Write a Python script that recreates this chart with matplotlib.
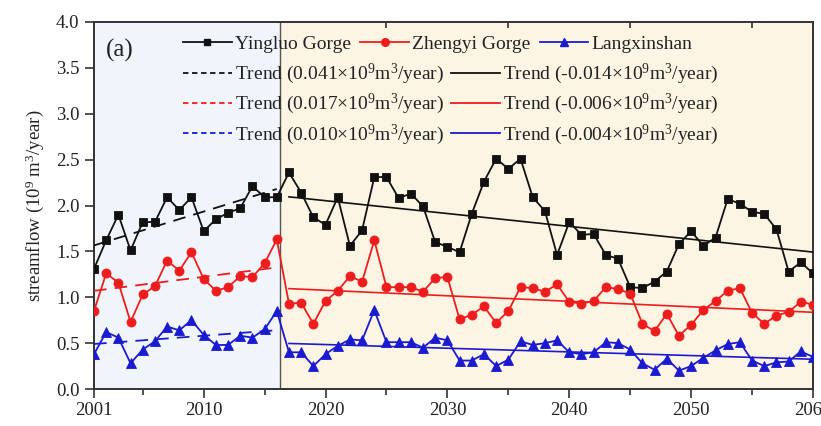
import numpy as np
import matplotlib
matplotlib.use("Agg")
import matplotlib.pyplot as plt
from matplotlib.lines import Line2D

plt.rcParams['font.family'] = ['Liberation Serif', 'DejaVu Serif']
plt.rcParams['mathtext.fontset'] = 'custom'
plt.rcParams['mathtext.rm'] = 'Liberation Serif'
plt.rcParams['mathtext.it'] = 'Liberation Serif:italic'

# ---- data -------------------------------------------------------------
years = list(range(2001, 2061))

yingluo = [1.31, 1.62, 1.90, 1.51, 1.82, 1.82, 2.09, 1.95, 2.09, 1.72, 1.85, 1.92, 1.97, 2.21, 2.09, 2.09,
           2.36, 2.14, 1.87, 1.79, 2.09, 1.56, 1.73, 2.31, 2.31, 2.08, 2.13, 1.99, 1.60, 1.55, 1.49,
           1.91, 2.26, 2.51, 2.40, 2.51, 2.09, 1.94, 1.46, 1.82, 1.68, 1.69, 1.46, 1.42, 1.11, 1.10, 1.17,
           1.28, 1.58, 1.72, 1.56, 1.65, 2.07, 2.02, 1.93, 1.91, 1.74, 1.28, 1.38, 1.26]

zhengyi = [0.85, 1.26, 1.16, 0.73, 1.03, 1.12, 1.40, 1.29, 1.49, 1.20, 1.07, 1.11, 1.23, 1.22, 1.37, 1.63,
           0.93, 0.94, 0.71, 0.96, 1.07, 1.23, 1.17, 1.62, 1.11, 1.11, 1.11, 1.06, 1.21, 1.22, 0.76,
           0.81, 0.90, 0.72, 0.85, 1.11, 1.10, 1.06, 1.14, 0.95, 0.93, 0.96, 1.11, 1.09, 1.04, 0.71, 0.63,
           0.82, 0.58, 0.70, 0.86, 0.96, 1.07, 1.10, 0.83, 0.71, 0.80, 0.84, 0.95, 0.92]

langxinshan = [0.38, 0.62, 0.56, 0.28, 0.43, 0.52, 0.68, 0.64, 0.75, 0.59, 0.48, 0.48, 0.58, 0.56, 0.65, 0.85,
               0.40, 0.40, 0.25, 0.38, 0.47, 0.54, 0.53, 0.86, 0.51, 0.51, 0.51, 0.45, 0.56, 0.53, 0.31,
               0.31, 0.38, 0.25, 0.32, 0.52, 0.48, 0.50, 0.53, 0.40, 0.38, 0.40, 0.51, 0.50, 0.43, 0.28, 0.21,
               0.33, 0.20, 0.25, 0.34, 0.42, 0.49, 0.51, 0.31, 0.25, 0.29, 0.30, 0.41, 0.35]

station_names = ['Yingluo Gorge', 'Zhengyi Gorge', 'Langxinshan']
slopes_early = [0.041, 0.017, 0.010]    # 2001-2016
slopes_late = [-0.014, -0.006, -0.004]  # 2017-2060
split_year = 2016
x_ticks = [2001, 2010, 2020, 2030, 2040, 2050, 2060]
x_minor = [2005, 2015, 2025, 2035, 2045, 2055]
y_ticks = [0.0, 0.5, 1.0, 1.5, 2.0, 2.5, 3.0, 3.5, 4.0]

colors = ['#111111', '#EE1D1D', '#1A1AD0']
markers = ['s', 'o', '^']
msizes = [5.5, 6.5, 6.5]

# ---- figure -----------------------------------------------------------
W, H = 821, 426
fig = plt.figure(figsize=(W / 100, H / 100), dpi=100)
ax = fig.add_axes([94 / W, 1 - 389 / H, (813 - 94) / W, (389 - 22) / H])

ax.set_xlim(2001, 2060)
ax.set_ylim(0, 4.0)

divider = split_year + 0.25
ax.axvspan(2001, divider, color='#F0F5FB', zorder=0, lw=0)
ax.axvspan(divider, 2060, color='#FDF5E3', zorder=0, lw=0)
ax.axvline(divider, color='#555555', lw=1.0, zorder=1)

yrs = np.array(years, dtype=float)
series = [np.array(yingluo), np.array(zhengyi), np.array(langxinshan)]
early = yrs <= split_year
late = yrs > split_year

for vals, c, m, ms in zip(series, colors, markers, msizes):
    ax.plot(yrs, vals, color=c, marker=m, markersize=ms, lw=1.3, zorder=4,
            markeredgewidth=0.6, markeredgecolor=c)

# trend lines through each period's mean with the stated slope
for vals, c, s_e, s_l in zip(series, colors, slopes_early, slopes_late):
    xe, ye = yrs[early], vals[early]
    be = ye.mean() - s_e * xe.mean()
    ax.plot([xe[0], xe[-1]], [be + s_e * xe[0], be + s_e * xe[-1]], color=c,
            lw=1.3, ls=(0, (7, 4.5)), zorder=3)
    xl, yl = yrs[late], vals[late]
    bl = yl.mean() - s_l * xl.mean()
    ax.plot([xl[0], xl[-1]], [bl + s_l * xl[0], bl + s_l * xl[-1]], color=c,
            lw=1.2, zorder=3)

# axes styling
ax.set_xticks(x_ticks)
ax.set_xticklabels([str(v) for v in x_ticks])
ax.set_xticks(x_minor, minor=True)
ax.set_yticks(y_ticks)
ax.set_yticklabels([f'{v:.1f}' for v in y_ticks])
ax.tick_params(axis='both', which='major', direction='out', length=6.5, width=1.2,
               labelsize=13.5, color='#333333', labelcolor='#222222', pad=3)
ax.tick_params(axis='y', which='major', pad=4)
ax.tick_params(axis='x', which='minor', direction='out', length=4, width=1.2, color='#333333')
for sp in ax.spines.values():
    sp.set_color('#333333')
    sp.set_linewidth(1.4)

top = ax.secondary_xaxis('top')
top.set_xticks(x_minor[2:])
top.set_xticklabels([])
top.tick_params(direction='in', length=4, width=1.2, color='#333333')
top.spines['top'].set_visible(False)

ax.set_ylabel('streamflow (10$^{9}$ m$^{3}$/year)', fontsize=13.5, color='#222222', labelpad=7)

ax.text(106 / W, 1 - 50 / H, '(a)', transform=fig.transFigure, fontsize=18,
        va='center', ha='left', color='#222222')

# legends
series_handles = [Line2D([], [], color=c, marker=m, markersize=ms - 1, lw=1.3)
                  for c, m, ms in zip(colors, markers, msizes)]
leg1 = fig.legend(series_handles, station_names, loc='upper left',
                  bbox_to_anchor=(183 / W, 1 - 35 / H), ncol=3, frameon=False,
                  fontsize=14, handlelength=2.5, handletextpad=0.15, columnspacing=0.5,
                  borderpad=0, borderaxespad=0)

def trend_label(s):
    return f'Trend ({s:.3f}\u00d710$^{{9}}$m$^{{3}}$/year)'

trend_handles = ([Line2D([], [], color=c, lw=1.3, ls=(0, (3, 2))) for c in colors]
                 + [Line2D([], [], color=c, lw=1.3) for c in colors])
trend_labels = [trend_label(s) for s in slopes_early] + [trend_label(s) for s in slopes_late]
leg2 = fig.legend(trend_handles, trend_labels, loc='upper left',
                  bbox_to_anchor=(183 / W, 1 - 62 / H), ncol=2, frameon=False,
                  fontsize=14, handlelength=2.5, handletextpad=0.15, columnspacing=0.4,
                  labelspacing=0.3, borderpad=0, borderaxespad=0)
for leg in (leg1, leg2):
    for t in leg.get_texts():
        t.set_color('#222222')

fig.savefig('out.png', dpi=100)
